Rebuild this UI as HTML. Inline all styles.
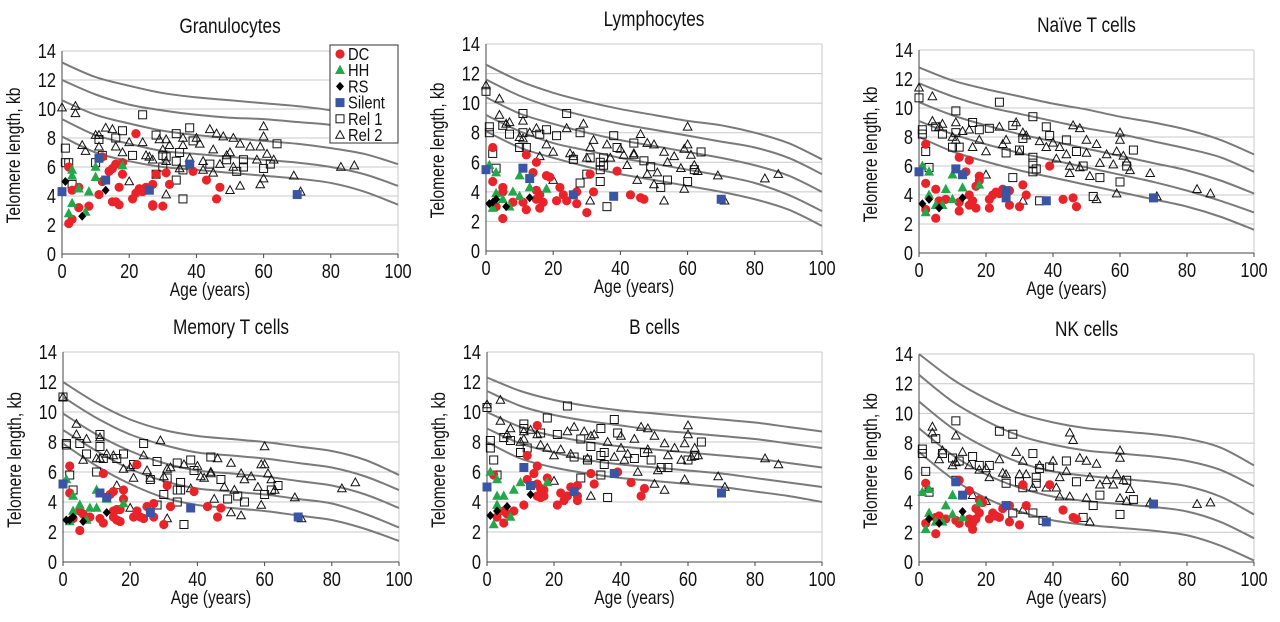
<!DOCTYPE html>
<html><head><meta charset="utf-8"><style>
html,body{margin:0;padding:0;background:#fff;}
svg{display:block;}
text{font-family:"Liberation Sans Narrow","Liberation Sans",sans-serif;fill:#111;}
</style></head><body>
<svg id="chart" width="1280" height="622" viewBox="0 0 1280 622" xmlns="http://www.w3.org/2000/svg"></svg>
<script>
const curveAges=[0,10,20,30,40,50,60,70,80,90,100];
const panelTitles=["Granulocytes","Lymphocytes","Naïve T cells","Memory T cells","B cells","NK cells"];
const yTicks=[0,2,4,6,8,10,12,14];
const xTicks=[0,20,40,60,80,100];
const seriesNames=["DC","HH","RS","Silent","Rel 1","Rel 2"];

// Granulocytes
const granCurves=[[13.2,12.2,11.6,11.1,10.8,10.6,10.4,10.2,9.9,9.3,9.0],[12.0,11.0,10.3,9.9,9.6,9.4,9.3,9.1,8.9,8.5,7.8],[10.6,9.6,9.0,8.5,8.2,8.0,7.8,7.6,7.3,6.9,6.2],[9.3,8.2,7.6,7.1,6.9,6.7,6.5,6.3,6.0,5.5,4.7],[8.1,7.0,6.4,6.0,5.8,5.6,5.4,5.2,4.9,4.3,3.4]];
const granDC=[[2,2.1],[2,6.0],[3,4.4],[3,2.4],[5,4.6],[5,3.2],[8,3.3],[11,4.1],[12,5.0],[12,6.7],[15,5.9],[15,3.6],[16,3.6],[16,6.2],[17,3.4],[17,4.6],[18,6.3],[18,5.5],[21,3.8],[22,4.2],[22,8.3],[23,4.5],[24,4.3],[25,4.6],[27,3.4],[27,3.3],[28,5.5],[30,3.3],[31,5.6],[32,4.8],[39,5.7],[43,5.1],[46,3.8],[47,4.6],[27,4.8],[14,5.7]];
const granHH=[[2,2.8],[3,5.8],[3,5.4],[3,3.5],[5,4.5],[8,4.3],[10,6.0],[10,5.3],[18,6.1],[7,2.9]];
const granRS=[[1,5.0],[6,2.6],[13,4.4]];
const granSilent=[[0,4.3],[13,5.1],[11,6.6],[26,4.4],[38,6.2],[70,4.1]];
const granRel1=[[1,7.3],[1,6.3],[2,6.3],[3,4.8],[10,6.3],[11,7.9],[12,6.8],[16,8.0],[18,8.5],[21,6.8],[24,9.6],[28,8.2],[28,5.5],[30,6.0],[31,6.7],[34,8.3],[34,6.4],[34,5.1],[35,7.0],[36,5.8],[36,3.8],[38,8.7],[39,7.8],[44,6.2],[49,6.5],[52,5.7],[54,6.0],[54,6.5],[60,5.9],[62,6.2],[64,7.6],[30,6.8]];
const granRel2=[[0,10.1],[4,10.2],[4,9.7],[6,7.5],[7,7.1],[10,8.2],[11,8.2],[11,7.4],[13,8.7],[15,8.6],[16,7.4],[18,7.0],[20,7.7],[20,5.0],[24,7.7],[25,6.8],[26,6.7],[29,7.9],[30,7.2],[31,7.9],[31,6.4],[31,4.1],[32,7.5],[36,8.0],[36,7.5],[38,6.6],[40,8.0],[41,7.6],[42,6.4],[42,5.8],[44,8.6],[45,7.2],[45,5.6],[46,8.3],[48,8.1],[49,6.8],[50,7.0],[50,4.4],[51,8.0],[51,6.0],[53,7.6],[53,4.7],[56,7.4],[58,6.5],[59,7.4],[59,4.8],[60,8.8],[60,8.1],[60,5.2],[61,6.9],[63,6.5],[69,5.4],[71,4.3],[83,6.0],[87,6.1],[47,6.2],[35,5.9],[27,6.5]];

// Lymphocytes
const lymCurves=[[12.6,11.5,10.7,10.1,9.6,9.2,8.8,8.5,8.0,7.3,6.2],[11.6,10.5,9.7,9.1,8.6,8.2,7.8,7.4,7.0,6.3,5.2],[10.4,9.3,8.6,8.0,7.5,7.1,6.7,6.3,5.8,5.1,4.0],[9.2,8.1,7.3,6.8,6.3,5.9,5.5,5.1,4.6,3.8,2.7],[8.1,7.0,6.3,5.7,5.2,4.8,4.4,4.0,3.5,2.8,1.7]];
const lymDC=[[2,7.0],[2,4.7],[5,4.3],[5,2.2],[5,4.0],[8,3.3],[11,3.3],[12,2.8],[12,6.5],[14,5.3],[15,6.0],[15,4.1],[15,3.5],[16,3.8],[16,2.9],[17,3.3],[18,5.1],[19,5.0],[21,3.4],[22,4.3],[23,3.8],[24,3.4],[26,3.8],[27,4.0],[27,3.2],[30,2.6],[31,5.2],[32,4.0],[39,5.4],[43,3.8],[46,3.6],[47,3.5],[3,3.0]];
const lymHH=[[1,5.8],[2,2.9],[3,5.3],[3,3.9],[5,3.5],[8,4.0],[10,5.1],[10,3.7],[13,4.3],[18,4.2],[7,3.0]];
const lymRS=[[1,3.2],[2,3.3],[3,3.5],[6,3.0],[13,3.6]];
const lymSilent=[[0,5.5],[11,5.6],[13,4.9],[26,3.8],[38,3.7],[70,3.5]];
const lymRel1=[[0,10.8],[1,8.4],[1,8.0],[2,6.6],[3,5.6],[5,8.5],[7,7.9],[10,7.0],[11,9.3],[11,8.0],[12,7.0],[16,7.9],[18,8.2],[21,7.8],[24,9.3],[26,6.2],[28,8.0],[28,4.6],[30,5.2],[31,6.3],[34,6.0],[34,5.5],[34,4.7],[35,6.3],[36,3.0],[38,7.8],[39,7.0],[44,7.3],[47,6.1],[49,5.7],[52,4.3],[54,4.8],[60,4.7],[62,5.5],[64,6.7],[35,5.8]];
const lymRel2=[[0,11.2],[4,10.3],[4,9.2],[6,8.6],[7,8.7],[10,7.7],[11,8.8],[11,7.6],[13,8.0],[15,8.3],[16,6.4],[18,7.2],[20,6.7],[20,4.8],[24,8.3],[25,6.6],[26,6.4],[29,8.6],[30,6.3],[31,7.0],[31,3.4],[32,7.5],[36,7.2],[37,6.3],[40,6.9],[41,6.5],[42,5.8],[44,6.5],[45,4.8],[46,7.9],[48,7.3],[48,5.2],[50,7.2],[50,4.5],[51,5.3],[53,6.7],[53,3.4],[54,6.0],[56,6.4],[58,5.6],[59,6.9],[59,4.2],[60,8.4],[60,7.2],[61,6.5],[62,5.8],[63,5.4],[69,5.1],[71,3.4],[83,4.9],[87,5.2],[44,6.6]];

// Naive T
const naiCurves=[[12.8,11.9,11.3,10.8,10.3,9.9,9.4,9.0,8.5,7.8,6.8],[11.7,10.8,10.1,9.6,9.1,8.6,8.2,7.7,7.2,6.6,5.6],[10.4,9.5,8.8,8.2,7.7,7.2,6.7,6.2,5.7,5.0,4.1],[9.1,8.2,7.5,6.9,6.4,5.9,5.4,4.9,4.3,3.6,2.8],[8.0,7.0,6.3,5.7,5.2,4.7,4.2,3.7,3.2,2.5,1.6]];
const naiDC=[[2,7.5],[2,4.8],[2,3.0],[5,4.4],[5,2.4],[6,3.6],[8,3.7],[12,6.6],[12,3.5],[12,2.9],[14,5.6],[15,6.4],[15,4.0],[15,3.3],[16,3.6],[17,3.1],[17,4.6],[18,5.3],[18,5.0],[21,3.7],[22,4.0],[23,4.2],[24,4.1],[25,4.4],[27,4.3],[27,3.3],[30,3.2],[31,4.7],[32,4.0],[39,6.0],[43,3.7],[46,3.8],[47,3.2],[21,3.1]];
const naiHH=[[1,6.0],[2,2.8],[3,5.6],[3,4.0],[5,3.3],[8,4.4],[10,5.4],[10,3.7],[13,4.5],[18,4.7],[7,3.3]];
const naiRS=[[1,3.4],[3,3.7],[6,3.1],[13,3.8]];
const naiSilent=[[0,5.6],[11,5.8],[13,5.4],[26,4.3],[26,3.8],[38,3.6],[70,3.8]];
const naiRel1=[[0,10.7],[1,8.5],[1,8.2],[2,7.0],[3,5.9],[5,8.7],[7,8.2],[10,7.3],[11,9.8],[11,8.3],[12,7.3],[16,9.0],[18,8.5],[21,8.6],[24,10.4],[26,6.9],[28,8.8],[28,5.2],[30,7.1],[31,7.9],[34,9.4],[34,6.6],[34,5.6],[35,5.8],[36,3.6],[38,8.7],[39,8.1],[44,7.8],[47,7.0],[49,6.0],[52,3.9],[54,5.2],[60,4.9],[62,6.0],[64,7.1],[34,6.2]];
const naiRel2=[[0,11.4],[4,10.8],[4,9.1],[6,8.7],[7,8.9],[10,8.0],[11,9.0],[11,7.8],[13,8.4],[15,8.5],[16,7.3],[18,7.8],[20,7.0],[20,5.4],[24,8.7],[25,7.5],[26,7.8],[29,9.0],[30,7.0],[31,8.3],[31,3.6],[32,8.1],[36,7.7],[38,7.3],[40,7.6],[41,6.5],[42,7.3],[44,6.8],[45,5.5],[46,8.8],[48,8.6],[48,5.9],[50,7.8],[50,6.9],[51,5.3],[53,7.5],[53,3.7],[54,6.2],[56,6.8],[58,6.1],[59,7.0],[59,4.1],[60,8.3],[60,7.8],[61,6.7],[62,6.3],[63,5.7],[69,5.5],[71,3.9],[83,4.4],[87,4.1],[45,6.0]];

// Memory T
const memCurves=[[12.0,10.6,9.5,8.8,8.4,8.2,8.0,7.7,7.4,6.8,5.8],[11.0,9.6,8.5,7.8,7.3,7.1,6.9,6.6,6.3,5.7,4.8],[9.9,8.5,7.4,6.6,6.1,5.9,5.7,5.4,5.1,4.5,3.6],[8.8,7.4,6.2,5.4,4.9,4.7,4.5,4.2,3.9,3.2,2.3],[7.9,6.4,5.2,4.3,3.8,3.6,3.4,3.1,2.8,2.2,1.4]];
const memDC=[[2,6.4],[2,4.6],[3,2.9],[5,2.1],[5,3.4],[6,3.2],[8,3.0],[11,2.9],[12,2.6],[12,5.9],[14,4.5],[15,4.7],[15,3.4],[15,3.0],[16,2.8],[17,2.7],[17,3.5],[18,4.8],[18,4.2],[21,3.0],[22,6.5],[22,3.4],[23,3.0],[24,2.9],[25,3.7],[27,3.9],[27,3.0],[30,2.5],[31,5.1],[32,3.7],[39,4.7],[43,3.7],[46,3.0],[47,3.6],[16,3.5]];
const memHH=[[1,5.5],[2,2.7],[3,4.4],[3,3.4],[5,3.8],[8,3.6],[10,3.6],[10,4.8],[13,4.2],[18,3.9],[7,2.8]];
const memRS=[[1,2.8],[2,2.8],[3,3.0],[6,2.7],[13,3.3]];
const memSilent=[[0,5.2],[11,4.6],[13,4.3],[26,3.3],[38,3.6],[70,3.0]];
const memRel1=[[0,11.0],[1,7.9],[1,7.8],[2,5.8],[3,4.8],[5,7.9],[7,7.2],[10,6.0],[11,8.5],[11,7.7],[12,6.9],[16,6.9],[18,7.2],[21,6.5],[24,7.9],[26,5.5],[28,6.7],[28,3.8],[30,4.5],[31,5.6],[34,6.6],[34,4.8],[34,4.0],[35,5.3],[36,2.5],[38,6.8],[39,6.1],[44,7.0],[47,5.5],[49,4.2],[52,4.4],[54,4.0],[60,4.5],[62,4.8],[64,5.1],[35,4.8]];
const memRel2=[[0,11.0],[4,9.2],[4,8.5],[6,6.8],[7,8.2],[10,6.9],[11,8.3],[11,6.9],[13,7.2],[15,7.1],[16,5.1],[18,6.2],[20,6.3],[20,3.6],[21,5.6],[24,7.1],[25,6.1],[26,5.6],[29,8.1],[30,5.7],[31,6.2],[31,2.9],[32,6.3],[36,6.5],[38,4.9],[40,6.4],[41,5.7],[42,5.6],[44,5.9],[45,4.2],[46,6.9],[48,5.0],[50,6.6],[50,3.3],[51,4.8],[53,5.9],[53,3.1],[54,5.5],[56,5.7],[58,5.0],[59,6.5],[59,3.8],[60,7.7],[60,6.5],[61,5.9],[62,5.5],[63,4.8],[69,4.3],[71,2.9],[83,4.9],[87,5.3],[44,6.0]];

// B cells
const bCurves=[[12.3,11.4,10.8,10.4,10.1,9.9,9.7,9.5,9.3,9.0,8.7],[11.4,10.4,9.8,9.4,9.1,8.8,8.6,8.4,8.2,7.9,7.6],[10.0,9.0,8.4,8.0,7.7,7.5,7.3,7.1,6.9,6.6,6.3],[8.9,7.9,7.3,6.8,6.5,6.3,6.1,5.9,5.6,5.3,5.0],[8.0,6.9,6.3,5.9,5.6,5.4,5.2,5.0,4.7,4.4,4.0]];
const bDC=[[2,5.8],[3,3.0],[5,3.4],[5,2.6],[6,3.2],[8,3.4],[11,3.8],[12,5.5],[12,7.1],[14,5.9],[15,9.1],[15,6.4],[15,5.2],[15,4.4],[16,4.3],[17,4.8],[17,4.4],[18,5.6],[21,3.8],[22,4.6],[23,4.1],[24,4.4],[25,5.0],[27,5.1],[27,4.1],[27,4.4],[31,5.9],[32,5.2],[39,6.0],[43,5.3],[46,4.4],[47,4.9],[16,4.9]];
const bHH=[[1,6.0],[2,2.5],[3,5.5],[3,4.4],[3,3.8],[5,4.4],[8,4.8],[10,5.3],[18,5.3],[7,3.0]];
const bRS=[[1,3.1],[3,3.4],[6,3.7],[13,4.5]];
const bSilent=[[0,5.0],[11,6.3],[13,5.1],[26,4.7],[38,5.9],[70,4.6]];
const bRel1=[[0,10.3],[1,8.1],[1,7.6],[2,6.8],[3,5.8],[5,8.3],[7,8.1],[10,7.3],[11,9.2],[11,8.9],[12,7.6],[16,8.6],[18,9.6],[21,8.5],[24,10.4],[26,7.0],[28,8.2],[28,5.6],[30,6.8],[31,7.7],[34,8.9],[34,7.1],[34,5.8],[35,7.3],[36,4.3],[38,9.5],[39,8.6],[44,6.9],[47,7.3],[49,6.8],[52,6.3],[54,6.3],[60,6.8],[62,7.1],[64,8.0],[35,6.5]];
const bRel2=[[0,10.5],[4,10.8],[4,9.4],[6,8.5],[7,8.9],[10,8.0],[11,8.7],[11,8.2],[13,8.8],[15,8.5],[16,7.8],[18,7.6],[20,7.1],[20,5.4],[22,7.5],[24,8.7],[25,7.2],[26,9.0],[29,8.7],[30,6.9],[31,8.4],[31,4.4],[32,8.5],[36,8.0],[38,7.0],[40,8.4],[41,6.8],[42,7.2],[44,8.2],[45,6.0],[46,9.0],[48,8.9],[48,7.5],[50,8.4],[50,5.2],[51,6.1],[53,7.9],[53,4.8],[54,7.1],[56,7.6],[58,6.8],[59,7.9],[59,5.5],[60,9.1],[60,8.5],[61,7.0],[62,7.6],[63,7.1],[69,5.7],[71,5.0],[83,6.9],[87,6.5],[40,7.6]];

// NK cells
const nkCurves=[[14.0,12.3,11.0,10.0,9.4,9.0,8.8,8.6,8.3,7.7,6.5],[12.6,10.8,9.5,8.5,7.9,7.5,7.3,7.1,6.8,6.2,5.1],[10.8,9.0,7.7,6.7,6.1,5.8,5.6,5.4,5.1,4.4,3.2],[9.0,7.2,5.9,5.0,4.4,4.1,3.9,3.7,3.4,2.7,1.6],[7.4,5.6,4.3,3.4,2.8,2.5,2.3,2.1,1.8,1.1,0.1]];
const nkDC=[[2,5.3],[2,2.6],[5,1.9],[5,3.0],[6,3.1],[8,2.9],[11,2.8],[12,2.6],[12,5.5],[15,4.8],[15,2.6],[15,2.9],[16,2.6],[16,2.2],[17,3.6],[17,2.9],[18,3.3],[18,4.2],[21,2.9],[22,3.3],[23,3.1],[24,3.0],[25,3.6],[27,3.8],[27,2.7],[30,2.5],[31,5.2],[32,3.8],[39,5.2],[43,3.5],[46,3.0],[47,2.9],[19,4.0]];
const nkHH=[[1,4.7],[2,2.2],[3,4.9],[3,3.3],[5,2.7],[8,3.8],[10,4.5],[10,3.2],[13,3.0],[18,4.0],[7,2.7]];
const nkRS=[[3,2.9],[6,2.6],[13,3.4]];
const nkSilent=[[11,5.4],[13,4.5],[26,3.8],[38,2.7],[70,3.9]];
const nkRel1=[[1,7.6],[1,7.3],[2,6.1],[3,4.7],[5,8.3],[7,7.3],[10,7.0],[11,9.5],[11,5.5],[12,6.8],[16,7.1],[18,6.5],[21,6.5],[24,8.8],[26,5.3],[28,8.6],[28,3.3],[30,5.4],[31,5.0],[34,7.3],[34,3.3],[35,5.3],[36,6.3],[37,2.8],[39,6.4],[44,6.8],[47,5.4],[49,3.0],[52,3.8],[54,4.5],[60,3.2],[62,5.5],[64,4.2],[35,5.7]];
const nkRel2=[[4,9.1],[4,8.7],[6,6.9],[7,7.5],[10,6.5],[11,8.5],[11,6.7],[13,7.4],[15,6.5],[16,4.5],[18,6.2],[20,6.3],[20,4.1],[21,5.7],[24,6.9],[25,6.0],[26,5.9],[29,7.4],[30,5.9],[31,6.8],[31,3.5],[32,5.9],[34,5.0],[36,6.5],[38,5.0],[40,6.8],[41,5.0],[42,5.7],[44,6.1],[45,8.7],[46,8.2],[45,4.4],[48,7.0],[50,6.8],[50,4.3],[51,5.7],[51,2.7],[53,6.6],[54,5.2],[56,5.5],[58,5.2],[59,5.9],[60,7.5],[60,7.0],[60,4.3],[61,5.5],[62,4.1],[63,4.9],[69,4.0],[83,3.9],[87,4.0],[42,4.4]];

const panelData=[
 [granCurves,granDC,granHH,granRS,granSilent,granRel1,granRel2],
 [lymCurves,lymDC,lymHH,lymRS,lymSilent,lymRel1,lymRel2],
 [naiCurves,naiDC,naiHH,naiRS,naiSilent,naiRel1,naiRel2],
 [memCurves,memDC,memHH,memRS,memSilent,memRel1,memRel2],
 [bCurves,bDC,bHH,bRS,bSilent,bRel1,bRel2],
 [nkCurves,nkDC,nkHH,nkRS,nkSilent,nkRel1,nkRel2]];
const frames=[[62,398,51,254],[486,822,44,251],[919,1254,50,253],[63,399,352,562],[487,822,352,562],[919,1254,354,562]];

const svg=document.getElementById('chart');
const NS='http://www.w3.org/2000/svg';
function mk(tag,attrs,parent){const e=document.createElementNS(NS,tag);for(const k in attrs)e.setAttribute(k,attrs[k]);(parent||svg).appendChild(e);return e;}
// condensed text: scale horizontally around anchor point
function ctext(parent,x,y,str,size,anchor,rot){
  let tf=`translate(${x} ${y})`;
  if(rot) tf+=` rotate(${rot})`;
  tf+=' scale(0.82 1)';
  const t=mk('text',{x:0,y:0,'text-anchor':anchor||'start','font-size':size,transform:tf},parent);
  t.textContent=str;
  return t;
}

function marker(g,type,cx,cy){
  let e;
  if(type===0){e=mk('circle',{cx:cx,cy:cy,r:4.6,fill:'#e8242a'},g);}
  else if(type===1){e=mk('polygon',{points:`${cx},${cy-5.5} ${cx+5},${cy+3.8} ${cx-5},${cy+3.8}`,fill:'#22a84a'},g);}
  else if(type===2){e=mk('polygon',{points:`${cx},${cy-4.5} ${cx+4},${cy} ${cx},${cy+4.5} ${cx-4},${cy}`,fill:'#000'},g);}
  else if(type===3){e=mk('rect',{x:cx-4.5,y:cy-4.5,width:9,height:9,fill:'#3a55a4'},g);}
  else if(type===4){e=mk('rect',{x:cx-4,y:cy-4,width:8,height:8,fill:'none',stroke:'#111','stroke-width':1},g);}
  else {e=mk('polygon',{points:`${cx},${cy-4.5} ${cx+4.3},${cy+3.3} ${cx-4.3},${cy+3.3}`,fill:'none',stroke:'#111','stroke-width':1},g);}
  return e;
}

panelData.forEach((pd,pi)=>{
  const [x0,x1,yt,yb]=frames[pi];
  const sx=a=>x0+(x1-x0)*a/100;
  const sy=v=>yb-(yb-yt)*v/14;
  const g=mk('g',{});
  
  
  yTicks.forEach(t=>{
    if(t>0){const l=mk('line',{x1:x0,x2:x1,y1:sy(t),y2:sy(t),stroke:'#c8c8c8','stroke-width':1},g);
    
    }
    const tl=ctext(g,x0-6,sy(t)+7,String(t),20,'end');
    
    
  });
  mk('line',{x1:x1,x2:x1,y1:yt,y2:yb,stroke:'#c8c8c8','stroke-width':1},g);
  const ax=mk('line',{x1:x0,x2:x0,y1:yt,y2:yb,stroke:'#444','stroke-width':1},g);
  
  
  const bx=mk('line',{x1:x0,x2:x1,y1:yb,y2:yb,stroke:'#444','stroke-width':1},g);
  
  
  xTicks.forEach(t=>{
    mk('line',{x1:sx(t),x2:sx(t),y1:yb,y2:yb+4,stroke:'#444'},g);
    const tl=ctext(g,sx(t),yb+24,String(t),20,'middle');
    
    
  });
  const title=ctext(g,(x0+x1)/2,yt-18,panelTitles[pi],21,'middle');
  
  
  const xl=ctext(g,(x0+x1)/2-20,yb+42,'Age (years)',19,'middle');
  
  
  const yl=ctext(g,x0-42,(yt+yb)/2+3,'Telomere length, kb',19,'middle',-90);
  
  
  pd[0].forEach((cv,ci)=>{
    const pts=cv.map((v,i)=>[sx(curveAges[i]),sy(v)]);
    let d=`M${pts[0][0]},${pts[0][1]}`;
    for(let i=0;i<pts.length-1;i++){
      const p0=pts[Math.max(0,i-1)],p1=pts[i],p2=pts[i+1],p3=pts[Math.min(pts.length-1,i+2)];
      const c1=[p1[0]+(p2[0]-p0[0])/6,p1[1]+(p2[1]-p0[1])/6];
      const c2=[p2[0]-(p3[0]-p1[0])/6,p2[1]-(p3[1]-p1[1])/6];
      d+=` C${c1[0]},${c1[1]} ${c2[0]},${c2[1]} ${p2[0]},${p2[1]}`;
    }
    const p=mk('path',{d:d,fill:'none',stroke:'#7a7a7a','stroke-width':2},g);
    
    
  });
  [5,4,0,1,3,2].forEach(si=>{
    const sg=mk('g',{},g);
    
    
    pd[si+1].forEach(([a,v])=>{
      const m=marker(sg,si,sx(a),sy(v));
      
      
    });
  });
  if(pi===0){
    const lg=mk('g',{});
    
    
    mk('rect',{x:330,y:45,width:68,height:98,fill:'#fff',stroke:'#333','stroke-width':1},lg);
    seriesNames.forEach((n,i)=>{
      const y=54+i*16.2;
      const m=marker(lg,i,340,y);
      
      
      const t=ctext(lg,348,y+6,n,18,'start');
      
      
    });
  }
});
</script>
</body></html>
